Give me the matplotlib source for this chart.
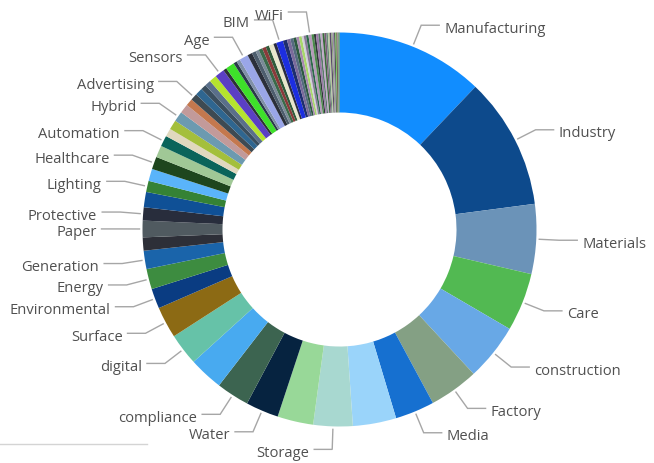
import numpy as np
import matplotlib.pyplot as plt

# slices in drawing order, clockwise from 12 o'clock ('' = slice without a label)
labels = [
    "Manufacturing", "Industry", "Materials", "Care", "construction", "Factory",
    "Media", "", "Storage", "", "Water", "compliance", "", "digital", "Surface",
    "Environmental", "Energy", "Generation", "", "Paper", "Protective", "",
    "Lighting", "", "Healthcare", "", "Automation", "",
    "", "Hybrid", "", "", "Advertising", "", "", "", "", "Sensors", "", "",
    "", "", "Age", "", "", "", "", "", "", "", "", "BIM", "", "", "", "",
    "", "", "", "", "", "WiFi", "", "", "", "", "", "", "", "", "", "", "",
    "", "", "", "", "", "",
]
shares = [
    43.6, 38.9, 20.6, 17.2, 16.8, 14.6,
    11.6, 12.8, 11.6, 10.6, 9.7, 9.7, 10.1, 9.4, 9.3,
    5.9, 6.0, 5.4, 3.9, 4.9, 3.9, 4.5,
    3.3, 3.6, 3.7, 3.5, 3.2, 2.4,
    2.8, 3.0, 2.7, 2.1, 2.0, 2.2, 1.6, 1.8, 2.2, 2.8, 1.0, 2.6,
    1.0, 1.1, 2.6, 1.4, 1.2, 1.0, 1.1, 1.1, 1.0, 1.4, 0.9, 2.0, 1.2, 1.0,
    0.9, 0.9, 0.8, 0.8, 0.6, 0.7, 0.7, 0.9, 0.7, 0.6, 0.7, 0.6, 0.6, 0.6,
    0.5, 0.5, 0.5, 0.5, 0.4, 0.4, 0.4, 0.3, 0.3, 0.3, 0.3,
]
colors = [
    "#118dff", "#0d4a8c", "#6b93b8", "#52b952", "#68a8e6", "#84a084",
    "#1670d0", "#9ad4fa", "#a8d8d0", "#98d898", "#062340", "#3c6450",
    "#48aaf0", "#66c2a8", "#8c6a14",
    "#0a3c82", "#3d8c40", "#1a64aa", "#2d2f38", "#505a60", "#282d3c",
    "#0f5096", "#358235", "#5ab4fa", "#1e461e", "#a0c896", "#0a645a",
    "#e0d8be",
    "#a4bf3c", "#6c9ab0", "#c29a9a", "#c4784e", "#3e4a52", "#2f6690",
    "#3a4e5e", "#5a6f8a", "#b5e32e", "#5b3fc4", "#2e3038", "#3ee02a",
    "#2a3a4a", "#8090a8", "#9aa6e8", "#2b2f3a", "#4d5d6d", "#7a8a98",
    "#3a6a4a", "#8a3a3a", "#2f5a3a", "#e8e6cc", "#2a2c40", "#1c2ee0",
    "#1e2e6e", "#7a6a9a", "#556a80", "#2d5a40", "#a88ab0", "#a8d86a",
    "#d0d0d8", "#8a7a9a", "#2d6a4a", "#b49ab8", "#4a8a4a", "#303838",
    "#9a7aa8", "#5a7a6a", "#c0a8c8", "#3a6a3a", "#7a5a7a", "#6a8a7a",
    "#b8c8a0", "#5a4a6a", "#8aa07a", "#9a8aaa", "#4a5a4a", "#6ac050",
    "#5a3a2a", "#8a8aa0", "#3a7a3a",
]

W, H = 654, 464
fig = plt.figure(figsize=(W / 100, H / 100), dpi=100)
ax = fig.add_axes([0, 0, 1, 1])

cx, cy, R = 339.5, H - 230.5, 197
ax.pie(shares, colors=colors, radius=R, center=(cx, cy), startangle=90,
       counterclock=False, wedgeprops=dict(width=80, linewidth=0))
ax.set_xlim(0, W)
ax.set_ylim(0, H)
ax.set_aspect("equal")
ax.axis("off")

# leader lines + labels at slice midpoints
vals = np.array(shares, dtype=float)
ends = np.cumsum(vals) / vals.sum() * 360
mids = ends - vals / vals.sum() * 360 / 2
for lab, th in zip(labels, mids):
    if not lab:
        continue
    t = np.radians(th)
    d = np.array([np.sin(t), np.cos(t)])
    p0 = np.array([cx, cy]) + (R + 3) * d
    p1 = np.array([cx, cy]) + (R + 23) * d
    side = 1 if th < 180 else -1
    p2 = p1 + [side * 18, 0]
    ax.plot([p0[0], p1[0], p2[0]], [p0[1], p1[1], p2[1]],
            color="#a6a6a6", lw=1, solid_joinstyle="miter")
    ax.text(p2[0] + side * 5, p2[1] - 3, lab, ha="left" if side > 0 else "right",
            va="center", fontsize=10.6, color="#505050", family="Open Sans")

# thin rule at the bottom left
ax.plot([0, 147], [H - 445, H - 445], color="#d4d4d4", lw=1)

fig.savefig("out.png", dpi=100)
